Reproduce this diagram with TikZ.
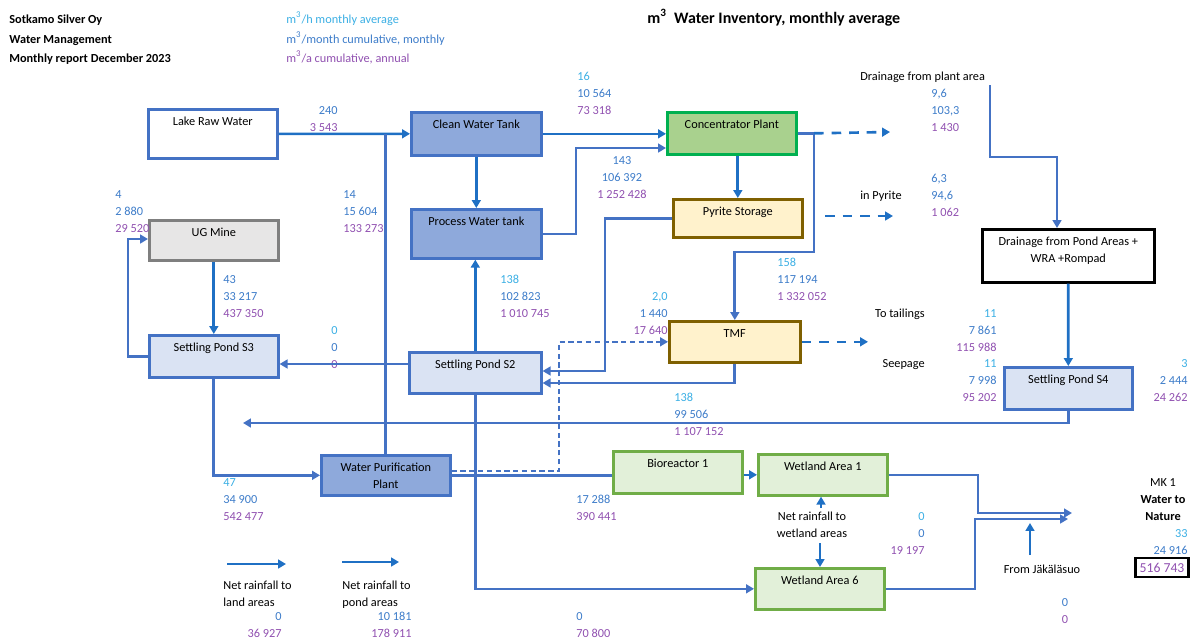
\documentclass[tikz,border=0pt]{standalone}
\usepackage{fontspec}
\setmainfont{Carlito}
\usetikzlibrary{arrows.meta,calc}
\definecolor{cA}{HTML}{3BAFE4}
\definecolor{cB}{HTML}{3D7CC9}
\definecolor{cC}{HTML}{9050B0}
\definecolor{lnc}{HTML}{4472C4}
\definecolor{arc}{HTML}{1F70C4}
\definecolor{dfill}{HTML}{8EA9DB}
\definecolor{lfill}{HTML}{DAE3F3}
\definecolor{gfill}{HTML}{E7E6E6}
\definecolor{gdraw}{HTML}{7F7F7F}
\definecolor{cpfill}{HTML}{A9D18E}
\definecolor{cpdraw}{HTML}{00B050}
\definecolor{yfill}{HTML}{FFF2CC}
\definecolor{ydraw}{HTML}{7F6000}
\definecolor{wfill}{HTML}{E2F0D9}
\definecolor{wdraw}{HTML}{70AD47}
\newcommand\tA[1]{\textcolor{cA}{#1}}
\newcommand\tB[1]{\textcolor{cB}{#1}}
\newcommand\tC[1]{\textcolor{cC}{#1}}
\begin{document}
\begin{tikzpicture}[x=0.02cm,y=-0.02cm,
  font=\fontsize{7}{9.64}\selectfont,
  box/.style={draw=lnc, line width=1.5pt, inner sep=0pt, anchor=north west},
  bt/.style={inner sep=0pt, anchor=north, align=center},
  stL/.style={inner sep=0pt, align=left, anchor=north west},
  stR/.style={inner sep=0pt, align=right, anchor=north east},
  stC/.style={inner sep=0pt, align=center, anchor=north},
  tl/.style={inner sep=0pt, anchor=base west},
  tr/.style={inner sep=0pt, anchor=base east},
  tc/.style={inner sep=0pt, anchor=base},
  hd/.style={tl, font=\fontsize{7}{9.64}\selectfont\bfseries},
  fl/.style={draw=lnc, line width=1.5pt},
  ar/.style={fl, -{Triangle[length=4.5pt,width=5pt]}},
  ar2/.style={ar, draw=arc},
  dar/.style={ar2, dash pattern=on 5.5pt off 4.5pt},
  dar2/.style={ar, dash pattern=on 3pt off 2pt}]
\useasboundingbox (0,0) rectangle (1190,640);

% header
\node[hd] (h1) at (9,23) {Sotkamo Silver Oy};
\node[hd] (h2) at (9,43) {Water Management};
\node[hd] (h3) at (9,62) {Monthly report December 2023};
\node[tl] (g1) at (286,23) {\tA{m\textsuperscript{3}/h monthly average}};
\node[tl] (g2) at (286,43) {\tB{m\textsuperscript{3}/month cumulative, monthly}};
\node[tl] (g3) at (286,62) {\tC{m\textsuperscript{3}/a cumulative, annual}};
\node[tl, font=\fontsize{9.1}{11}\selectfont\bfseries] (ttl) at (647,23) {m\textsuperscript{3}\ \ Water Inventory, monthly average};

% boxes
\node[box, fill=white, minimum width=2.58cm, minimum height=0.98cm] (lrw) at (147,108) {};
\node[bt] (lrwT) at ([yshift=-0.1cm]lrw.north) {\strut Lake Raw Water};
\node[box, fill=dfill, minimum width=2.60cm, minimum height=0.86cm] (cwt) at (410,111) {};
\node[bt] (cwtT) at ([yshift=-0.1cm]cwt.north) {\strut Clean Water Tank};
\node[box, fill=dfill, minimum width=2.60cm, minimum height=0.98cm] (pwt) at (410,208) {};
\node[bt] (pwtT) at ([yshift=-0.1cm]pwt.north) {\strut Process Water tank};
\node[box, fill=cpfill, draw=cpdraw, minimum width=2.58cm, minimum height=0.84cm] (cp) at (666,111) {};
\node[bt] (cpT) at ([yshift=-0.1cm]cp.north) {\strut Concentrator Plant};
\node[box, fill=yfill, draw=ydraw, minimum width=2.58cm, minimum height=0.76cm] (ps) at (672,198) {};
\node[bt] (psT) at ([yshift=-0.1cm]ps.north) {\strut Pyrite Storage};
\node[box, fill=gfill, draw=gdraw, minimum width=2.58cm, minimum height=0.80cm] (ugm) at (148,219) {};
\node[bt] (ugmT) at ([yshift=-0.1cm]ugm.north) {\strut UG Mine};
\node[box, fill=lfill, minimum width=2.58cm, minimum height=0.84cm] (s3) at (148,334) {};
\node[bt] (s3T) at ([yshift=-0.1cm]s3.north) {\strut Settling Pond S3};
\node[box, fill=lfill, minimum width=2.64cm, minimum height=0.82cm] (s2) at (408,351) {};
\node[bt] (s2T) at ([yshift=-0.1cm]s2.north) {\strut Settling Pond S2};
\node[box, fill=yfill, draw=ydraw, minimum width=2.62cm, minimum height=0.82cm] (tmf) at (668,320) {};
\node[bt] (tmfT) at ([yshift=-0.1cm]tmf.north) {\strut TMF};
\node[box, fill=white, draw=black, minimum width=3.44cm, minimum height=1.06cm] (dr) at (981,228) {};
\node[bt] (drT) at ([yshift=-0.1cm]dr.north) {\strut Drainage from Pond Areas +\\WRA +Rompad};
\node[box, fill=lfill, minimum width=2.56cm, minimum height=0.84cm] (s4) at (1003,366) {};
\node[bt] (s4T) at ([yshift=-0.1cm]s4.north) {\strut Settling Pond S4};
\node[box, fill=dfill, minimum width=2.58cm, minimum height=0.80cm] (wpp) at (320,454) {};
\node[bt] (wppT) at ([yshift=-0.1cm]wpp.north) {\strut Water Purification\\Plant};
\node[box, fill=wfill, draw=wdraw, minimum width=2.58cm, minimum height=0.84cm] (bio) at (612,450) {};
\node[bt] (bioT) at ([yshift=-0.1cm]bio.north) {\strut Bioreactor 1};
\node[box, fill=wfill, draw=wdraw, minimum width=2.58cm, minimum height=0.82cm] (wl1) at (757,453) {};
\node[bt] (wl1T) at ([yshift=-0.1cm]wl1.north) {\strut Wetland Area 1};
\node[box, fill=wfill, draw=wdraw, minimum width=2.58cm, minimum height=0.82cm] (wl6) at (754,567) {};
\node[bt] (wl6T) at ([yshift=-0.1cm]wl6.north) {\strut Wetland Area 6};

% labels
\node[stR] (n1) at (338,102) {\strut\tB{240}\\\tC{3 543}};
\node[stL] (n2) at (577,68) {\strut\tA{16}\\\tB{10 564}\\\tC{73 318}};
\node[stC] (n3) at (622,152) {\strut\tB{143}\\\tB{106 392}\\\tC{1 252 428}};
\node[tl] (dpl) at (860,80) {Drainage from plant area};
\node[stL] (n4) at (931,85) {\strut\tB{9,6}\\\tB{103,3}\\\tC{1 430}};
\node[tl] (inp) at (860,199) {in Pyrite};
\node[stL] (n5) at (931,170) {\strut\tB{6,3}\\\tB{94,6}\\\tC{1 062}};
\node[stL] (n6) at (343,186) {\strut\tB{14}\\\tB{15 604}\\\tC{133 273}};
\node[stL] (n7) at (115,186) {\strut\tB{4}\\\tB{2 880}\\\tC{29 520}};
\node[stL] (n8) at (223,271) {\strut\tB{43}\\\tB{33 217}\\\tC{437 350}};
\node[stL] (n9) at (500,271) {\strut\tA{138}\\\tB{102 823}\\\tC{1 010 745}};
\node[stL] (n10) at (331,322) {\strut\tA{0}\\\tB{0}\\\tC{0}};
\node[stL] (n11) at (777,254) {\strut\tA{158}\\\tB{117 194}\\\tC{1 332 052}};
\node[stR] (n12) at (668,288) {\strut\tA{2,0}\\\tB{1 440}\\\tC{17 640}};
\node[tr] (tt) at (925,317) {To tailings};
\node[stR] (n13) at (997,305) {\strut\tA{11}\\\tB{7 861}\\\tC{115 988}};
\node[tr] (sp) at (925,367) {Seepage};
\node[stR] (n14) at (997,355) {\strut\tA{11}\\\tB{7 998}\\\tC{95 202}};
\node[stR] (n15) at (1188,355) {\strut\tA{3}\\\tB{2 444}\\\tC{24 262}};
\node[stL] (n16) at (674,389) {\strut\tA{138}\\\tB{99 506}\\\tC{1 107 152}};
\node[stL] (n17) at (223,474) {\strut\tA{47}\\\tB{34 900}\\\tC{542 477}};
\node[stL] (n18) at (576,491) {\strut\tB{17 288}\\\tC{390 441}};
\node[stC] (nrw) at (812,508) {\strut Net rainfall to\\wetland areas};
\node[stR] (n19) at (925,508) {\strut\tA{0}\\\tB{0}\\\tC{19 197}};
\node[tc] (jak) at (1042,573) {From Jäkäläsuo};
\node[stC] (n20) at (1065,594) {\strut\tB{0}\\\tC{0}};
\node[stC] (mk) at (1163,474) {\strut MK 1\\\textbf{Water to}\\\textbf{Nature}};
\node[stR] (n21) at (1188,525) {\strut\tA{33}\\\tB{24 916}};
\node[draw=black, line width=1.2pt, minimum width=1.06cm, minimum height=0.38cm, inner sep=0pt, font=\fontsize{7.8}{10}\selectfont] (n22) at (1162,567.5) {\tC{516 743}};
\node[stL] (nrl) at (223,577) {\strut Net rainfall to\\land areas};
\node[stR] (n23) at (282,608) {\strut\tB{0}\\\tC{36 927}};
\node[stL] (nrp) at (342,577) {\strut Net rainfall to\\pond areas};
\node[stR] (n24) at (412,608) {\strut\tB{10 181}\\\tC{178 911}};
\node[stL] (n25) at (576,608) {\strut\tB{0}\\\tC{70 800}};

% coordinates
\coordinate (c1) at (576,148);
\coordinate (c2) at (814,252);
\coordinate (d1b) at (890,132);
\coordinate (d2a) at (825,216);
\coordinate (d2b) at (893,216);
\coordinate (c3) at (605,371);
\coordinate (c4) at (0,383);
\coordinate (c5) at (559,471);
\coordinate (c7) at (0,364);
\coordinate (c8) at (128,239);
\coordinate (c9) at (243,423);
\coordinate (dpa) at (990,85);
\coordinate (c10) at (1057,157);
\coordinate (d3) at (868,340);
\coordinate (c11) at (978,513);
\coordinate (mka) at (1072,513);
\coordinate (c12) at (975,519);
\coordinate (mkb) at (1068,519);
\coordinate (c13a) at (1030,555);
\coordinate (c13b) at (1030,523);
\coordinate (c14) at (821,508);
\coordinate (c15) at (820,543);
\coordinate (ra1) at (227,564);
\coordinate (ra2) at (286,564);
\coordinate (rb1) at (342,562);
\coordinate (rb2) at (399,562);

% connectors
\draw[ar2] (lrw.east) -- (cwt.west);
\draw[fl] (wpp.north) -- (wpp.north |- lrw.east);
\draw[ar2] (cwt.east) -- (cwt.east -| cp.west);
\draw[ar2] (cwt.south) -- (cwt.south |- pwt.north);
\draw[ar] (pwt.east) -| (c1) -- (c1 -| cp.west);
\draw[ar2] (cp.south -| ps.north) -- (ps.north);
\draw[ar] (cp.east) -| (c2) -| (tmf.north);
\draw[dar] (c2 |- cp.east) -- (d1b);
\draw[dar] (d2a) -- (d2b);
\draw[ar] (ps.west) -| (c3) -- (c3 -| s2.east);
\draw[ar] (tmf.south) |- (c4 -| s2.east);
\draw[fl] (wpp.east) -- (wpp.east -| bio.west);
\draw[dar2] (c5 -| wpp.east) -- (c5) |- (tmf.west);
\draw[ar2] (bio.east |- wl1.west) -- (wl1.west);
\draw[ar2] (s2.north) -- (s2.north |- pwt.south);
\draw[ar] (s2.west |- c7) -- (s3.east |- c7);
\draw[ar] (s3.west) -| (c8) -- (c8 -| ugm.west);
\draw[ar2] (ugm.south) -- (s3.north);
\draw[ar] (s3.south) |- (wpp.west);
\draw[ar] (s2.south) |- (wl6.west);
\draw[ar] (s4.south) |- (c9);
\draw[ar] (dpa) |- (c10) -- (c10 |- dr.north);
\draw[ar2] (dr.south) -- (s4.north);
\draw[dar] (tmf.east) -- (d3 |- tmf.east);
\draw[ar] (wl1.east) -| (c11) -- (mka);
\draw[ar] (wl6.east) -| (c12) -- (mkb);
\draw[ar2] (c13a) -- (c13b);
\draw[ar2] (c14) -- (c14 |- wl1.south);
\draw[ar2] (c15) -- (c15 |- wl6.north);
\draw[ar2] (ra1) -- (ra2);
\draw[ar2] (rb1) -- (rb2);
\end{tikzpicture}
\end{document}
